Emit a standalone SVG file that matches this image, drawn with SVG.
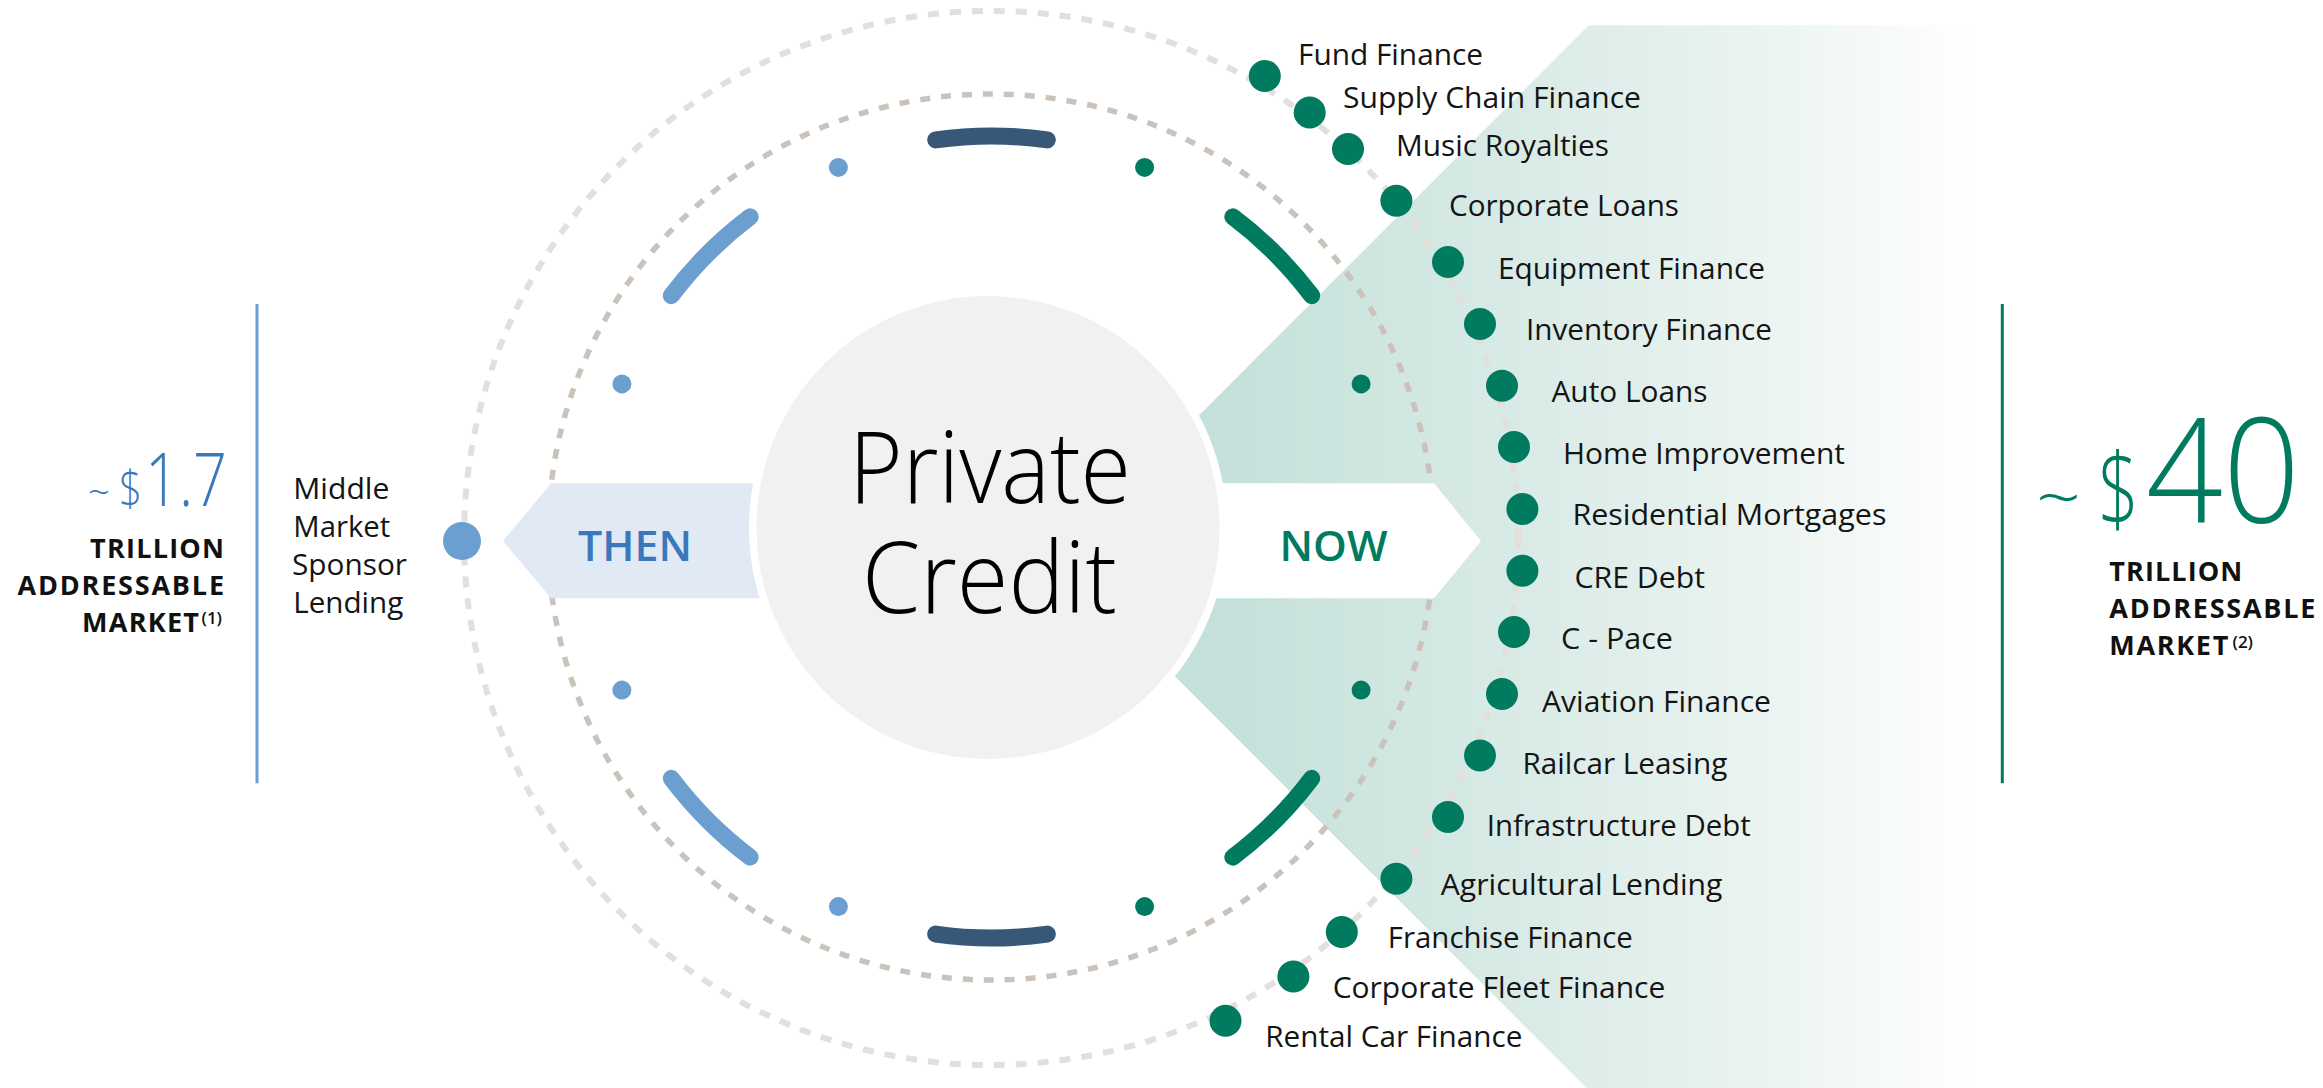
<svg xmlns="http://www.w3.org/2000/svg" width="2323" height="1088" viewBox="0 0 2323 1088">
  <defs>
    <linearGradient id="tealGrad" gradientUnits="userSpaceOnUse" x1="1060" y1="0" x2="1975" y2="0">
      <stop offset="0" stop-color="#c1ded8"/>
      <stop offset="0.2" stop-color="#c6e1db"/>
      <stop offset="0.75" stop-color="#e9f3f0"/>
      <stop offset="1" stop-color="#ffffff"/>
    </linearGradient>
    <style>
      .lbl { font-family: "Open Sans", "Noto Sans", sans-serif; font-size: 30px; fill: #141414; }
      .gdot { fill: #007b5f; }
      .bdot { fill: #6a9fd0; }
      .arc { fill: none; stroke-width: 17; stroke-linecap: round; }
      .cap { font-family: "Open Sans", "Noto Sans", sans-serif; font-size: 27px; font-weight: 700; fill: #111111; }
      .sup { font-size: 17px; font-weight: 600; }
      .big { font-family: "Open Sans", "Noto Sans", sans-serif; font-weight: 300; }
    </style>
  </defs>
  <rect width="2323" height="1088" fill="#ffffff"/>

  <!-- teal background chevron -->
  <polygon id="now-field" points="1588.8,25.3 1975,25.3 1975,1088 1586.6,1088 1056.5,558" fill="url(#tealGrad)"/>

  <!-- dashed rings -->
  <g id="connectors" fill="none">
    <circle cx="991" cy="538" r="527" stroke="#e3e0db" stroke-width="6" stroke-dasharray="11 11"/>
    <circle cx="991" cy="537" r="443" stroke="#cbc3bb" stroke-width="5.5" stroke-dasharray="10 11"/>
  </g>

  <!-- THEN / NOW bands -->
  <g id="then-band">
    <polygon points="503,541 551,483.3 900,483.3 900,598.3 551,598.3" fill="#e1e9f5"/>
    <text x="578" y="560.7" textLength="114" lengthAdjust="spacingAndGlyphs" font-family="Open Sans, Noto Sans, sans-serif" font-size="42" font-weight="600" fill="#3a78ba">THEN</text>
  </g>
  <g id="now-band">
    <polygon points="1100,483.3 1434,483.3 1481,541 1434,598.3 1100,598.3" fill="#ffffff"/>
    <text x="1279.5" y="561" textLength="108" lengthAdjust="spacingAndGlyphs" font-family="Open Sans, Noto Sans, sans-serif" font-size="41" font-weight="600" fill="#007b5f">NOW</text>
  </g>

  <!-- center -->
  <g id="private-credit">
    <circle cx="988" cy="527.5" r="239" fill="#ffffff"/>
    <circle cx="988" cy="527.5" r="231.5" fill="#f1f1f1"/>
    <text class="big" font-size="100" fill="#000000"><tspan x="849" y="503.3" textLength="282" lengthAdjust="spacingAndGlyphs">Private</tspan><tspan x="862" y="612.7" textLength="255" lengthAdjust="spacingAndGlyphs">Credit</tspan></text>
  </g>

  <!-- inner arcs and dots -->
  <g id="ring-marks">
    <path class="arc" stroke="#375877" d="M 935.7 139.9 A 401 401 0 0 1 1047.3 139.9"/>
    <path class="arc" stroke="#375877" d="M 935.7 934.1 A 401 401 0 0 0 1047.3 934.1"/>
    <path class="arc" stroke="#6a9fd0" d="M 671.3 295.7 A 401 401 0 0 1 750.2 216.8"/>
    <path class="arc" stroke="#6a9fd0" d="M 750.2 857.2 A 401 401 0 0 1 671.3 778.3"/>
    <path class="arc" stroke="#007b5f" d="M 1232.8 216.8 A 401 401 0 0 1 1311.7 295.7"/>
    <path class="arc" stroke="#007b5f" d="M 1311.7 778.3 A 401 401 0 0 1 1232.8 857.2"/>
    <circle class="gdot" cx="1361.1" cy="690.1" r="9.5"/>
    <circle class="gdot" cx="1144.6" cy="906.6" r="9.5"/>
    <circle class="bdot" cx="838.4" cy="906.6" r="9.5"/>
    <circle class="bdot" cx="621.9" cy="690.1" r="9.5"/>
    <circle class="bdot" cx="621.9" cy="383.9" r="9.5"/>
    <circle class="bdot" cx="838.4" cy="167.4" r="9.5"/>
    <circle class="gdot" cx="1144.6" cy="167.4" r="9.5"/>
    <circle class="gdot" cx="1361.1" cy="383.9" r="9.5"/>
  </g>

  <!-- right-hand market nodes -->
  <g id="fund-finance"><circle class="gdot" cx="1264.8" cy="76" r="16"/><text class="lbl" x="1298" y="65.4" textLength="185" lengthAdjust="spacingAndGlyphs">Fund Finance</text></g>
  <g id="supply-chain-finance"><circle class="gdot" cx="1309.7" cy="112.5" r="16"/><text class="lbl" x="1343" y="108.2" textLength="298" lengthAdjust="spacingAndGlyphs">Supply Chain Finance</text></g>
  <g id="music-royalties"><circle class="gdot" cx="1348" cy="149" r="16"/><text class="lbl" x="1396" y="156" textLength="213" lengthAdjust="spacingAndGlyphs">Music Royalties</text></g>
  <g id="corporate-loans"><circle class="gdot" cx="1396.4" cy="200.7" r="16"/><text class="lbl" x="1449" y="216" textLength="230" lengthAdjust="spacingAndGlyphs">Corporate Loans</text></g>
  <g id="equipment-finance"><circle class="gdot" cx="1448" cy="262" r="16"/><text class="lbl" x="1498" y="278.6" textLength="267" lengthAdjust="spacingAndGlyphs">Equipment Finance</text></g>
  <g id="inventory-finance"><circle class="gdot" cx="1480" cy="324" r="16"/><text class="lbl" x="1526" y="340" textLength="246" lengthAdjust="spacingAndGlyphs">Inventory Finance</text></g>
  <g id="auto-loans"><circle class="gdot" cx="1502" cy="385.7" r="16"/><text class="lbl" x="1551.5" y="402" textLength="156" lengthAdjust="spacingAndGlyphs">Auto Loans</text></g>
  <g id="home-improvement"><circle class="gdot" cx="1514" cy="447" r="16"/><text class="lbl" x="1563" y="463.6" textLength="282" lengthAdjust="spacingAndGlyphs">Home Improvement</text></g>
  <g id="residential-mortgages"><circle class="gdot" cx="1522.4" cy="509" r="16"/><text class="lbl" x="1572.4" y="525" textLength="314" lengthAdjust="spacingAndGlyphs">Residential Mortgages</text></g>
  <g id="cre-debt"><circle class="gdot" cx="1522.4" cy="570.7" r="16"/><text class="lbl" x="1574.5" y="588" textLength="130.5" lengthAdjust="spacingAndGlyphs">CRE Debt</text></g>
  <g id="c-pace"><circle class="gdot" cx="1514" cy="632" r="16"/><text class="lbl" x="1561" y="648.6" textLength="112" lengthAdjust="spacingAndGlyphs">C - Pace</text></g>
  <g id="aviation-finance"><circle class="gdot" cx="1502" cy="694" r="16"/><text class="lbl" x="1542" y="712" textLength="229" lengthAdjust="spacingAndGlyphs">Aviation Finance</text></g>
  <g id="railcar-leasing"><circle class="gdot" cx="1480" cy="755.5" r="16"/><text class="lbl" x="1522.4" y="774.3" textLength="205" lengthAdjust="spacingAndGlyphs">Railcar Leasing</text></g>
  <g id="infrastructure-debt"><circle class="gdot" cx="1448" cy="817" r="16"/><text class="lbl" x="1486.7" y="836" textLength="264" lengthAdjust="spacingAndGlyphs">Infrastructure Debt</text></g>
  <g id="agricultural-lending"><circle class="gdot" cx="1396.4" cy="878.7" r="16"/><text class="lbl" x="1440.8" y="895" textLength="281.6" lengthAdjust="spacingAndGlyphs">Agricultural Lending</text></g>
  <g id="franchise-finance"><circle class="gdot" cx="1341.8" cy="932" r="16"/><text class="lbl" x="1387.8" y="947.5" textLength="245" lengthAdjust="spacingAndGlyphs">Franchise Finance</text></g>
  <g id="corporate-fleet-finance"><circle class="gdot" cx="1293.4" cy="976.5" r="16"/><text class="lbl" x="1332.7" y="997.5" textLength="332.6" lengthAdjust="spacingAndGlyphs">Corporate Fleet Finance</text></g>
  <g id="rental-car-finance"><circle class="gdot" cx="1225.5" cy="1020.7" r="16"/><text class="lbl" x="1265.3" y="1047" textLength="257" lengthAdjust="spacingAndGlyphs">Rental Car Finance</text></g>

  <!-- left: then market -->
  <g id="middle-market">
    <circle class="bdot" cx="462" cy="541" r="19"/>
    <text class="lbl"><tspan x="293.3" y="499" textLength="96" lengthAdjust="spacingAndGlyphs">Middle</tspan><tspan x="293.3" y="537.3" textLength="97" lengthAdjust="spacingAndGlyphs">Market</tspan><tspan x="292" y="575" textLength="115" lengthAdjust="spacingAndGlyphs">Sponsor</tspan><tspan x="293.3" y="613.3" textLength="110" lengthAdjust="spacingAndGlyphs">Lending</tspan></text>
  </g>
  <g id="then-market-size">
    <line x1="257" y1="304" x2="257" y2="783.3" stroke="#6a9fd0" stroke-width="3"/>
    <text class="big" fill="#3a78ba"><tspan x="88" y="506" font-size="40" textLength="22" lengthAdjust="spacingAndGlyphs">~</tspan><tspan x="119" y="506" font-size="50" textLength="23" lengthAdjust="spacingAndGlyphs">$</tspan><tspan x="145" y="506" font-size="74" textLength="82" lengthAdjust="spacingAndGlyphs">1.7</tspan></text>
    <text class="cap"><tspan x="90" y="558.3" textLength="134" lengthAdjust="spacing">TRILLION</tspan><tspan x="17.5" y="595" textLength="206.5" lengthAdjust="spacing">ADDRESSABLE</tspan><tspan x="82" y="631.7" textLength="117" lengthAdjust="spacing">MARKET</tspan><tspan class="sup" x="201.5" y="624">(1)</tspan></text>
  </g>

  <!-- right: now market size -->
  <g id="now-market-size">
    <line x1="2002.3" y1="304" x2="2002.3" y2="783.3" stroke="#007b5f" stroke-width="3"/>
    <text class="big" fill="#007b5f"><tspan x="2036" y="523" font-size="72" textLength="45" lengthAdjust="spacingAndGlyphs">~</tspan><tspan x="2098" y="524" font-size="100" textLength="41" lengthAdjust="spacingAndGlyphs">$</tspan><tspan x="2146" y="523.3" font-size="145" textLength="154" lengthAdjust="spacingAndGlyphs">40</tspan></text>
    <text class="cap"><tspan x="2109.3" y="581" textLength="133" lengthAdjust="spacing">TRILLION</tspan><tspan x="2109.3" y="617.7" textLength="206" lengthAdjust="spacing">ADDRESSABLE</tspan><tspan x="2109.3" y="655" textLength="119" lengthAdjust="spacing">MARKET</tspan><tspan class="sup" x="2232.5" y="648">(2)</tspan></text>
  </g>
</svg>
